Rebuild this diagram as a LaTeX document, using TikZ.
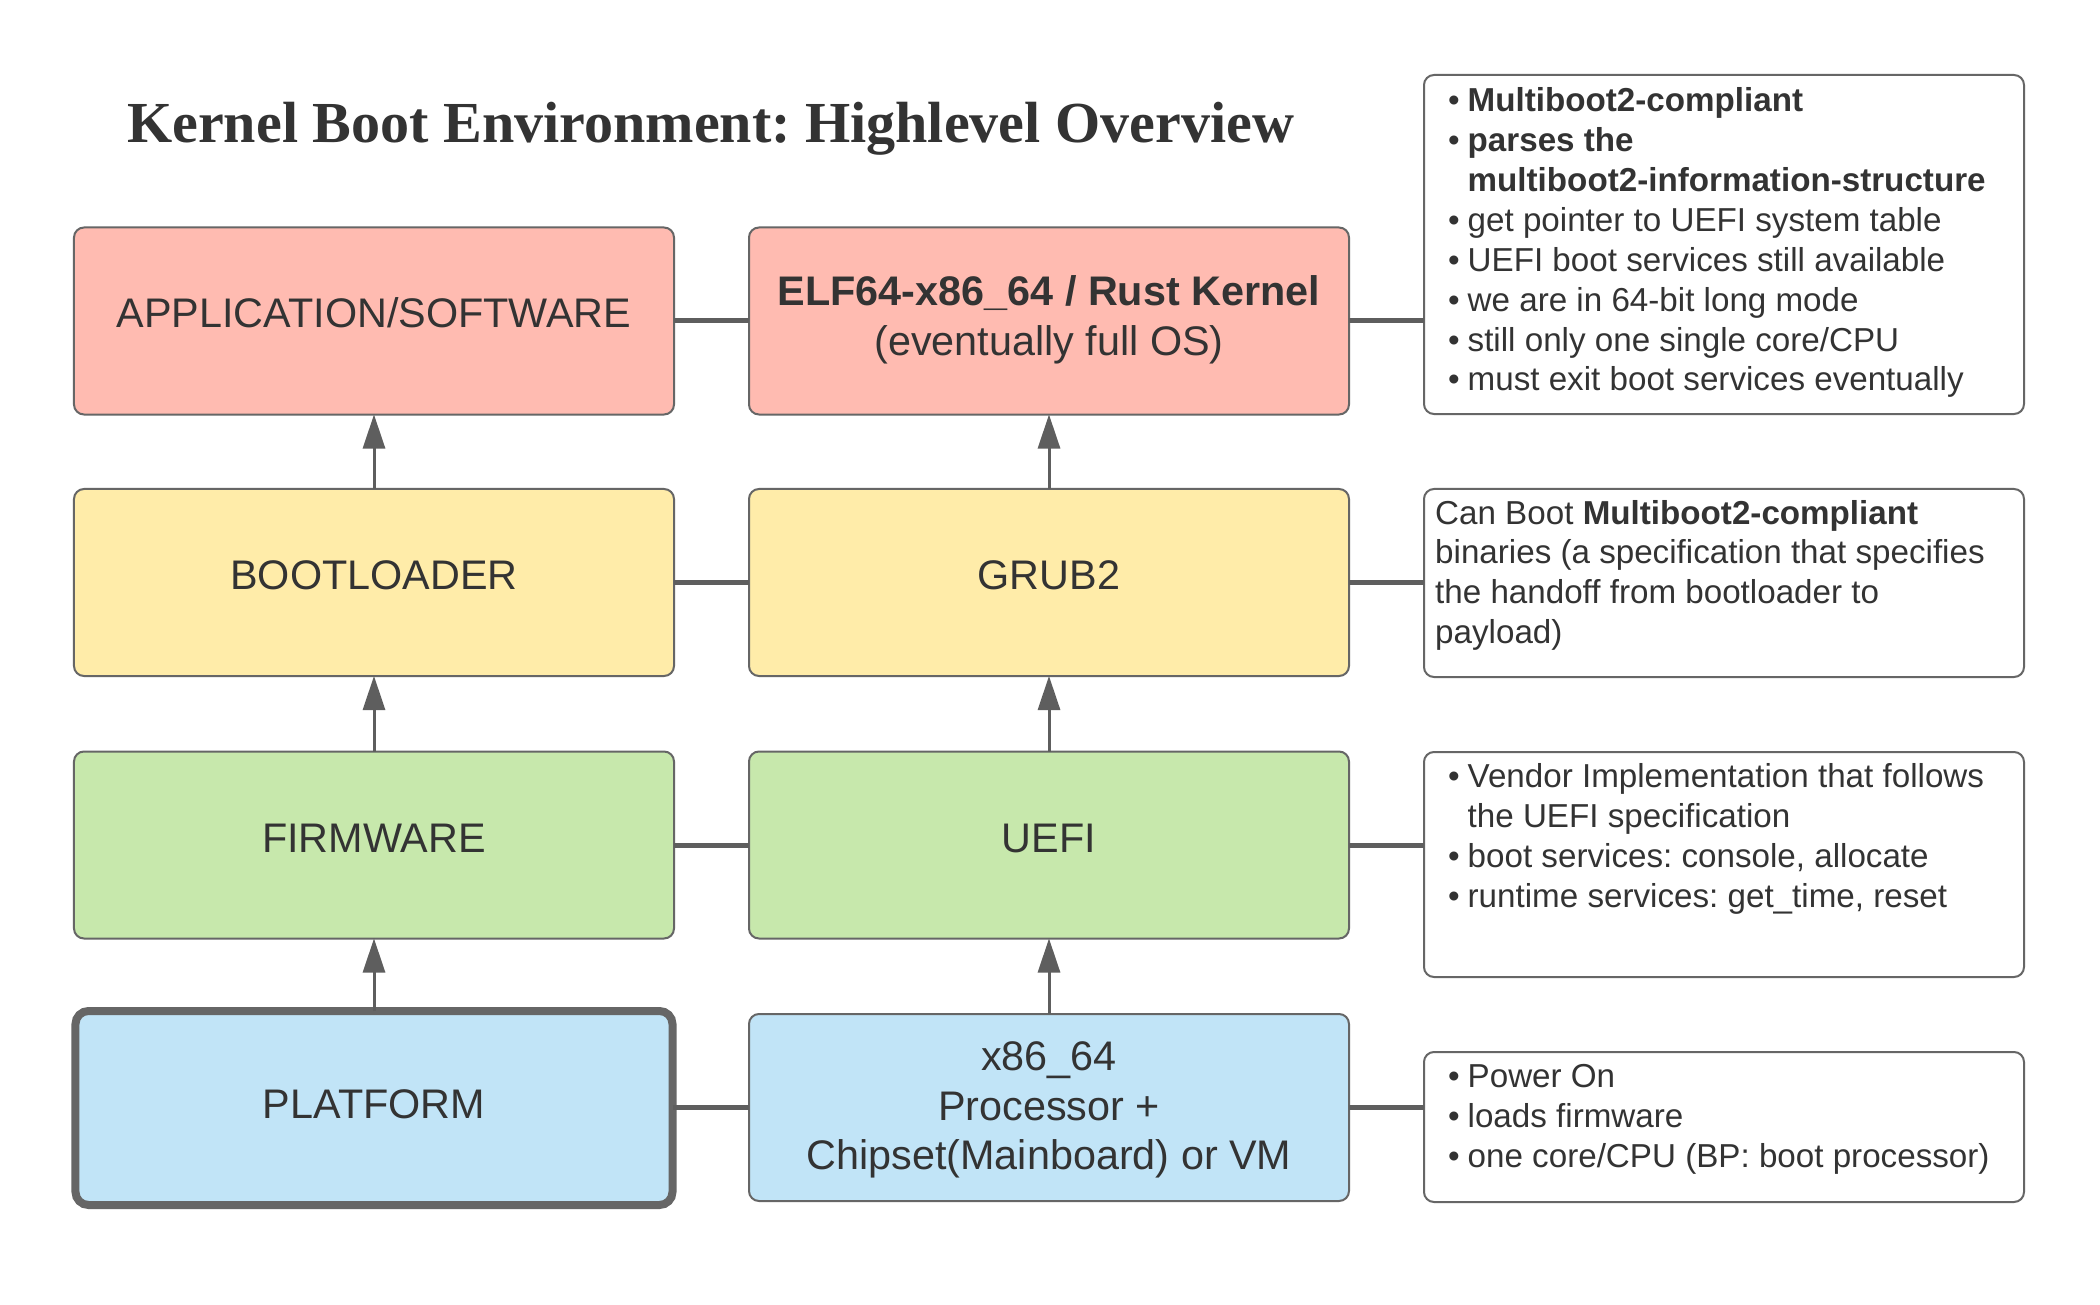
\documentclass[tikz,border=0pt]{standalone}
\usepackage{fontspec}
\setmainfont{Liberation Sans}
\newfontfamily\titlefont{Liberation Serif}
\usetikzlibrary{arrows.meta}
\frenchspacing
\definecolor{txt}{HTML}{333333}
\definecolor{edge}{HTML}{666666}
\definecolor{conn}{HTML}{5E5E5E}
\definecolor{cpink}{HTML}{FFBBB1}
\definecolor{cyellow}{HTML}{FFECA9}
\definecolor{cgreen}{HTML}{C7E8AC}
\definecolor{cblue}{HTML}{C1E4F7}
\newcommand{\bl}[1]{\makebox[19.5bp][l]{\textbullet}{#1}}
\newcommand{\cn}[1]{\hspace*{19.5bp}{#1}}
\tikzset{
  box/.style={draw=edge, line width=2bp, rounded corners=10bp, minimum width=600bp, minimum height=187bp, inner sep=0pt, outer sep=0pt},
  note/.style={draw=edge, line width=2bp, rounded corners=10bp, fill=white, minimum width=600bp, inner sep=0pt, outer sep=0pt},
  lbl/.style={anchor=base, inner sep=0pt, text=txt, font=\fontsize{41.5}{50}\selectfont, align=center},
  ntext/.style={anchor=base west, inner sep=0pt, text=txt},
  link/.style={draw=conn, line width=5bp},
  arr/.style={draw=conn, line width=3bp, -{Triangle[length=34bp,width=22bp]}},
}
\newcommand{\notebody}[1]{\parbox[t]{575bp}{\fontsize{33.3}{40}\selectfont\frenchspacing\raggedright #1}}
\begin{document}
\begin{tikzpicture}[x=1bp,y=-1bp]
\fill[white] (0,0) rectangle (2100,1305);
\useasboundingbox (0,0) rectangle (2100,1305);

\node[anchor=base west, inner sep=0pt, text=txt] (title) at (127,143)
  {\titlefont\bfseries\fontsize{58.3}{70}\selectfont Kernel Boot Environment: Highlevel Overview};

% left column
\node[box, fill=cpink] (L1) at (374,321) {};
\node[box, fill=cyellow] (L2) at (374,582.5) {};
\node[box, fill=cgreen] (L3) at (374,845) {};
\node[box, fill=cblue, line width=8bp, minimum width=597bp, minimum height=194bp, rounded corners=13bp] (L4) at (374,1108) {};

% middle column
\node[box, fill=cpink] (M1) at (1049,321) {};
\node[box, fill=cyellow] (M2) at (1049,582.5) {};
\node[box, fill=cgreen] (M3) at (1049,845) {};
\node[box, fill=cblue] (M4) at (1049,1107.5) {};

% notes
\node[note, minimum height=339bp] (N1) at (1724,244.5) {};
\node[note, minimum height=188bp] (N2) at (1724,583) {};
\node[note, minimum height=225bp] (N3) at (1724,864.5) {};
\node[note, minimum height=150bp] (N4) at (1724,1127) {};

% labels
\node[lbl] (tL1) at (374,327.5) {APPLICATION/SOFTWARE};
\node[lbl] (tL2) at (374,589.5) {BOOTLOADER};
\node[lbl] (tL3) at (374,852) {FIRMWARE};
\node[lbl] (tL4) at (374,1118.5) {PLATFORM};
\node[lbl] (tM1a) at (1049,305.5) {\bfseries ELF64-x86\_64 / Rust Kernel};
\node[lbl] (tM1b) at (1049,355.5) {(eventually full OS)};
\node[lbl] (tM2) at (1049,589.5) {GRUB2};
\node[lbl] (tM3) at (1049,852) {UEFI};
\node[lbl] (tM4a) at (1049,1070.5) {x86\_64};
\node[lbl] (tM4b) at (1049,1120) {Processor +};
\node[lbl] (tM4c) at (1049,1169.5) {Chipset(Mainboard) or VM};

% note texts
\node[ntext] (tN1) at (1448,112) {\notebody{%
\bl{\textbf{Multiboot2-compliant}}\\
\bl{\textbf{parses the}}\\
\cn{\textbf{multiboot2-information-structure}}\\
\bl{get pointer to UEFI system table}\\
\bl{UEFI boot services still available}\\
\bl{we are in 64-bit long mode}\\
\bl{still only one single core/CPU}\\
\bl{must exit boot services eventually}}};
\node[ntext] (tN2) at (1435,524) {\notebody{%
Can Boot \textbf{Multiboot2-compliant}\\
binaries (a specification that specifies\\
the handoff from bootloader to\\
payload)}};
\node[ntext] (tN3) at (1448,787.5) {\notebody{%
\bl{Vendor Implementation that follows}\\
\cn{the UEFI specification}\\
\bl{boot services: console, allocate}\\
\bl{runtime services: get\_time, reset}}};
\node[ntext] (tN4) at (1448,1087.5) {\notebody{%
\bl{Power On}\\
\bl{loads firmware}\\
\bl{one core/CPU (BP: boot processor)}}};

% horizontal connectors
\draw[link] (L1) -- (M1);
\draw[link] (L2) -- (M2);
\draw[link] (L3) -- (M3);
\draw[link] (L4.east |- M4.west) -- (M4.west);
\draw[link] (M1.east) -- (M1.east -| N1.west);
\draw[link] (M2.east) -- (M2.east -| N2.west);
\draw[link] (M3.east) -- (M3.east -| N3.west);
\draw[link] (M4.east) -- (M4.east -| N4.west);

% arrows
\draw[arr] (L2) -- (L1);
\draw[arr] (L3) -- (L2);
\draw[arr] (L4) -- (L3);
\draw[arr] (M2) -- (M1);
\draw[arr] (M3) -- (M2);
\draw[arr] (M4) -- (M3);
\end{tikzpicture}
\end{document}
